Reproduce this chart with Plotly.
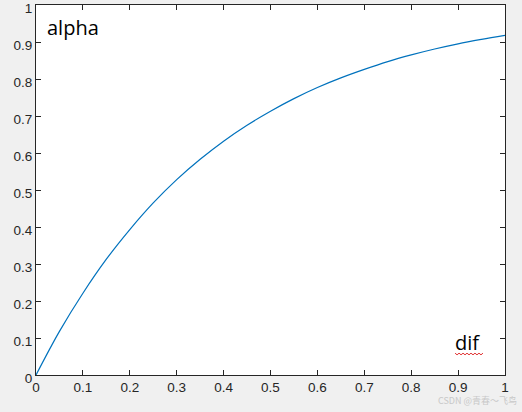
import plotly.graph_objects as go

dif = [0, 0.05, 0.1, 0.15, 0.2, 0.25, 0.3, 0.35, 0.4, 0.45, 0.5,
       0.55, 0.6, 0.65, 0.7, 0.75, 0.8, 0.85, 0.9, 0.95, 1.0]
alpha = [0, 0.118, 0.221, 0.313, 0.393, 0.465, 0.528, 0.583, 0.632, 0.675, 0.713,
         0.747, 0.777, 0.803, 0.826, 0.847, 0.865, 0.881, 0.895, 0.907, 0.918]
ticks = [0, 0.1, 0.2, 0.3, 0.4, 0.5, 0.6, 0.7, 0.8, 0.9, 1]
tick_text = ["0", "0.1", "0.2", "0.3", "0.4", "0.5", "0.6", "0.7", "0.8", "0.9", "1"]

fig = go.Figure()
fig.add_trace(go.Scatter(x=dif, y=alpha, mode="lines", line=dict(color="#0072BD", width=1.2, shape="spline"),
                         showlegend=False, hoverinfo="skip"))

axis_common = dict(range=[0, 1], tickvals=ticks, ticktext=tick_text, ticks="inside", ticklen=5,
                   tickcolor="#262626", tickwidth=1, showline=True, linecolor="#262626", linewidth=1,
                   mirror="ticks", showgrid=False, zeroline=False, automargin=False,
                   ticklabeloverflow="allow",
                   tickfont=dict(family="Liberation Sans, Arial", size=13.5, color="#262626"))

fig.update_layout(
    width=522, height=412,
    margin=dict(l=36, r=17, t=5, b=37),
    paper_bgcolor="#f0f0f0", plot_bgcolor="#ffffff",
    xaxis=axis_common, yaxis=dict(axis_common, ticklabelshift=3),
    annotations=[
        dict(text="alpha", xref="paper", yref="paper", x=0.02, y=0.98, xanchor="left", yanchor="top",
             showarrow=False, font=dict(family="Open Sans", size=20, color="#000000")),
        dict(text="dif", xref="paper", yref="paper", x=0.89, y=0.045, xanchor="left", yanchor="bottom",
             showarrow=False, font=dict(family="Open Sans", size=20, color="#000000")),
        dict(text="CSDN @青春～飞鸟", xref="paper", yref="paper", x=1.03, y=-0.068, xanchor="right", yanchor="middle",
             showarrow=False, font=dict(family="Noto Sans CJK SC", size=9, color="#c8c8c8")),
    ],
    shapes=[
        dict(type="path", xref="paper", yref="paper",
             path="M 0.8935 0.059 L 0.8978 0.0545 L 0.902 0.059 L 0.9063 0.0545 L 0.9105 0.059 L 0.9148 0.0545 "
                  "L 0.919 0.059 L 0.9233 0.0545 L 0.9275 0.059 L 0.9318 0.0545 L 0.936 0.059 L 0.9403 0.0545 "
                  "L 0.9445 0.059 L 0.9488 0.0545 L 0.953 0.059",
             line=dict(color="#e03030", width=1)),
    ],
)

fig.write_html("out.html", config={"displayModeBar": False},
               post_script="document.body.style.margin='0';document.body.style.overflow='hidden';")
